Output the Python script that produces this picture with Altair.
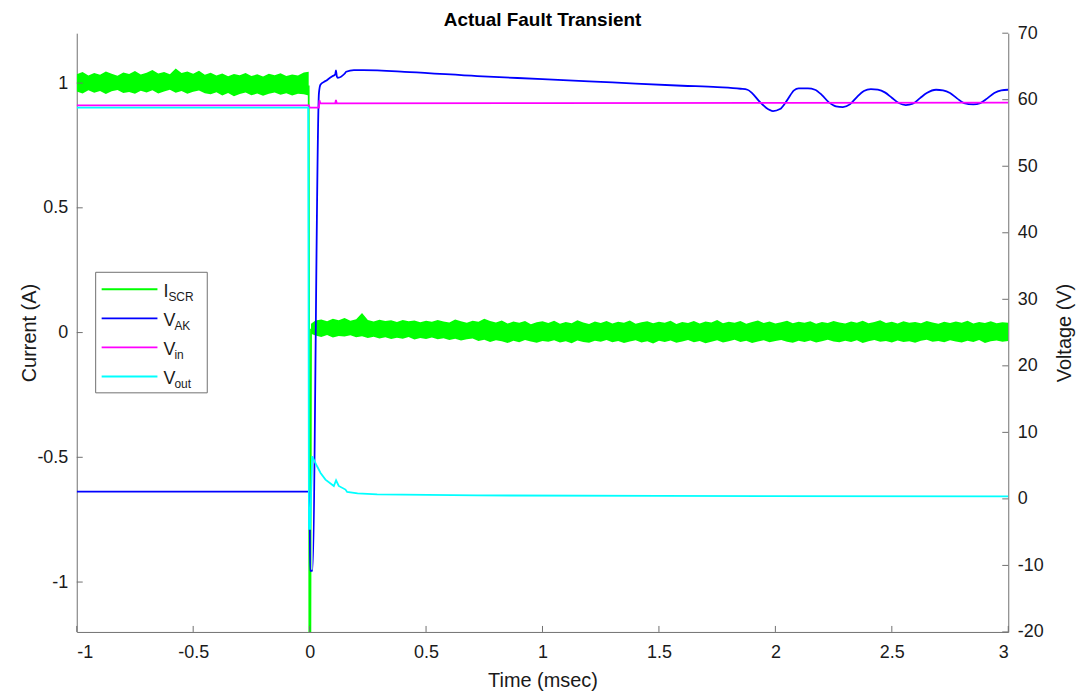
import altair as alt
import numpy as np
import pandas as pd

# ---------------- data ----------------
TITLE = "Actual Fault Transient"
X_TICKS = [-1, -0.5, 0, 0.5, 1, 1.5, 2, 2.5, 3]
LEFT_TICKS = [-1, -0.5, 0, 0.5, 1]
RIGHT_TICKS = [-20, -10, 0, 10, 20, 30, 40, 50, 60, 70]

# I_SCR noise envelope before the fault
T_PRE = list(np.linspace(-1.0, -0.025, 40)) + [-0.004]
ISCR_PRE_HI = [1.035, 1.044, 1.030, 1.040, 1.033, 1.046, 1.037, 1.029, 1.042, 1.036,
               1.048, 1.034, 1.041, 1.052, 1.038, 1.044, 1.035, 1.058, 1.040, 1.046,
               1.037, 1.049, 1.033, 1.041, 1.030, 1.038, 1.027, 1.036, 1.031, 1.040,
               1.028, 1.035, 1.026, 1.037, 1.031, 1.039, 1.028, 1.034, 1.030, 1.042, 1.045]
ISCR_PRE_LO = [0.966, 0.958, 0.971, 0.961, 0.968, 0.956, 0.967, 0.972, 0.960, 0.964,
               0.957, 0.969, 0.962, 0.971, 0.958, 0.966, 0.973, 0.961, 0.968, 0.957,
               0.965, 0.970, 0.959, 0.955, 0.963, 0.950, 0.960, 0.947, 0.956, 0.962,
               0.951, 0.958, 0.949, 0.957, 0.962, 0.953, 0.959, 0.950, 0.957, 0.955, 0.950]

# I_SCR noise envelope after the fault
T_POST = [0.006] + list(np.linspace(0.025, 3.0, 120))
ISCR_POST_HI = [0.035,
    0.048, 0.052, 0.045, 0.055, 0.049, 0.058, 0.047, 0.053, 0.078, 0.050,
    0.044, 0.051, 0.046, 0.049, 0.042, 0.050, 0.045, 0.048, 0.041, 0.047,
    0.043, 0.050, 0.044, 0.040, 0.052, 0.045, 0.039, 0.047, 0.043, 0.055,
    0.046, 0.040, 0.048, 0.036, 0.044, 0.039, 0.046, 0.033, 0.041, 0.045,
    0.038, 0.047, 0.035, 0.042, 0.037, 0.049, 0.040, 0.034, 0.044, 0.038,
    0.046, 0.036, 0.043, 0.039, 0.048, 0.035, 0.041, 0.045, 0.037, 0.043,
    0.039, 0.047, 0.034, 0.042, 0.038, 0.046, 0.036, 0.044, 0.040, 0.050,
    0.037, 0.043, 0.039, 0.046, 0.035, 0.042, 0.048, 0.038, 0.044, 0.036,
    0.041, 0.047, 0.037, 0.043, 0.039, 0.045, 0.035, 0.042, 0.038, 0.046,
    0.040, 0.036, 0.044, 0.039, 0.047, 0.037, 0.042, 0.049, 0.038, 0.043,
    0.036, 0.045, 0.039, 0.042, 0.037, 0.046, 0.040, 0.035, 0.043, 0.038,
    0.044, 0.039, 0.047, 0.036, 0.042, 0.038, 0.045, 0.037, 0.041, 0.039]
ISCR_POST_LO = [-0.005,
    -0.012, -0.018, -0.010, -0.020, -0.014, -0.016, -0.011, -0.019, -0.015, -0.022,
    -0.017, -0.024, -0.019, -0.026, -0.021, -0.025, -0.018, -0.028, -0.022, -0.026,
    -0.020, -0.027, -0.023, -0.030, -0.025, -0.032, -0.027, -0.024, -0.034, -0.029,
    -0.038, -0.031, -0.035, -0.042, -0.033, -0.039, -0.030, -0.036, -0.041, -0.034,
    -0.037, -0.031, -0.040, -0.035, -0.043, -0.032, -0.038, -0.041, -0.033, -0.037,
    -0.030, -0.039, -0.034, -0.042, -0.036, -0.031, -0.040, -0.035, -0.044, -0.033,
    -0.038, -0.032, -0.041, -0.036, -0.030, -0.039, -0.034, -0.043, -0.037, -0.031,
    -0.040, -0.035, -0.029, -0.038, -0.033, -0.042, -0.036, -0.031, -0.039, -0.034,
    -0.030, -0.037, -0.041, -0.033, -0.038, -0.032, -0.040, -0.035, -0.029, -0.036,
    -0.039, -0.033, -0.038, -0.031, -0.042, -0.035, -0.030, -0.037, -0.034, -0.040,
    -0.032, -0.038, -0.035, -0.041, -0.033, -0.029, -0.037, -0.034, -0.039, -0.031,
    -0.036, -0.040, -0.033, -0.038, -0.030, -0.042, -0.035, -0.032, -0.037, -0.034]

# I_SCR spike at the fault instant
ISCR_DROP_T = [-0.004, -0.001, 0.003, 0.006]
ISCR_DROP = [0.99, -1.30, -1.30, 0.015]

# V_AK
VAK_T = [-1.0, 0.0, 0.002, 0.012, 0.040, 0.047, 0.068, 0.096, 0.110, 0.113, 0.117,
         0.121, 0.150, 0.157, 0.19, 0.23, 0.43, 0.72, 1.0, 1.3, 1.6, 1.75, 1.85,
         1.88, 1.90, 1.93, 1.96, 1.99, 2.02, 2.05, 2.08, 2.10, 2.14, 2.17, 2.20,
         2.23, 2.26, 2.29, 2.32, 2.35, 2.38, 2.41, 2.44, 2.47, 2.50, 2.53, 2.56,
         2.59, 2.62, 2.65, 2.69, 2.72, 2.75, 2.78, 2.81, 2.85, 2.88, 2.91, 2.94,
         2.97, 3.0]
VAK_V = [1.1, 1.1, -10.8, -10.8, 61.0, 62.3, 62.8, 63.5, 63.8, 64.4, 63.5,
         63.3, 63.9, 64.2, 64.45, 64.45, 64.15, 63.55, 63.1, 62.6, 62.1, 61.9, 61.65,
         61.5, 61.0, 59.8, 58.8, 58.3, 58.6, 59.9, 61.4, 61.7, 61.7, 61.5, 60.7,
         59.6, 59.0, 58.9, 59.3, 60.4, 61.3, 61.6, 61.5, 61.1, 60.3, 59.5, 59.2,
         59.4, 60.2, 61.0, 61.5, 61.4, 61.0, 60.2, 59.5, 59.3, 59.5, 60.2, 61.0,
         61.4, 61.5]

# V_in
VIN_T = [-1.0, -0.003, 0.0, 0.040, 0.042, 0.046, 0.110, 0.113, 0.117, 1.0, 2.0, 3.0]
VIN_V = [59.15, 59.15, 58.8, 58.8, 59.9, 59.45, 59.45, 59.95, 59.45, 59.5, 59.52, 59.55]

# V_out
VOUT_T = [-1.0, -0.006, -0.003, 0.002, 0.011, 0.032, 0.047, 0.068, 0.104, 0.1136,
          0.125, 0.154, 0.161, 0.206, 0.29, 0.72, 1.5, 3.0]
VOUT_V = [58.8, 58.8, -4.5, -4.5, 6.4, 4.9, 3.9, 2.9, 1.93, 2.8,
          1.95, 1.4, 1.05, 0.82, 0.67, 0.52, 0.45, 0.37]

LEGEND_MAIN = ["I", "V", "V", "V"]
LEGEND_SUB = ["SCR", "AK", "in", "out"]
COLORS = ["#00ff00", "#0000ff", "#ff00ff", "#00ffff"]

# ---------------- style ----------------
FONT = "Liberation Sans"
AX = "#707070"
TXT = "#1a1a1a"
W, H = 935, 601
LW = 1.8

band = pd.concat([
    pd.DataFrame({"t": T_PRE, "y": ISCR_PRE_LO, "y2": ISCR_PRE_HI, "seg": "pre"}),
    pd.DataFrame({"t": T_POST, "y": ISCR_POST_LO, "y2": ISCR_POST_HI, "seg": "post"}),
])
drop = pd.DataFrame({"t": ISCR_DROP_T, "y": ISCR_DROP})
vak = pd.DataFrame({"t": VAK_T, "v": VAK_V})
vin = pd.DataFrame({"t": VIN_T, "v": VIN_V})
vout = pd.DataFrame({"t": VOUT_T, "v": VOUT_V})

x_enc = alt.X("t:Q", scale=alt.Scale(domain=[-1, 3], nice=False, zero=False),
              axis=alt.Axis(values=X_TICKS, title="Time (msec)", labelExpr="'' + datum.value",
                            labelPadding=12, titleX=W / 2, titleY=49, titleBaseline="middle"))
yl_enc = alt.Y("y:Q", scale=alt.Scale(domain=[-1.2, 1.2], nice=False, zero=False),
               axis=alt.Axis(values=LEFT_TICKS, title="Current (A)", orient="left",
                             labelExpr="'' + datum.value", labelPadding=9,
                             titleX=-47, titleY=H / 2, titleAngle=270, titleBaseline="middle"))
yr_enc = alt.Y("v:Q", scale=alt.Scale(domain=[-20, 70], nice=False, zero=False),
               axis=alt.Axis(values=RIGHT_TICKS, title="Voltage (V)", orient="right",
                             labelExpr="'' + datum.value", labelPadding=9,
                             titleX=56, titleY=H / 2, titleAngle=270, titleBaseline="middle"))

# left (current) group
g_area = alt.Chart(band).mark_area(color=COLORS[0], clip=True, opacity=1).encode(
    x=x_enc, y=yl_enc, y2="y2:Q", detail="seg:N")
g_drop = alt.Chart(drop).mark_line(color=COLORS[0], strokeWidth=LW, clip=True).encode(
    x=x_enc, y=yl_enc)
l_ticks = alt.Chart(pd.DataFrame({"y": LEFT_TICKS})).mark_rule(color=AX).encode(
    y=yl_enc, x=alt.value(0), x2=alt.value(6))
left = alt.layer(g_area, g_drop, l_ticks)

# right (voltage) group
b_line = alt.Chart(vak).mark_line(color=COLORS[1], strokeWidth=LW, clip=True,
                                  interpolate="monotone").encode(x=x_enc, y=yr_enc)
m_line = alt.Chart(vin).mark_line(color=COLORS[2], strokeWidth=LW, clip=True).encode(
    x=x_enc, y=yr_enc)
c_line = alt.Chart(vout).mark_line(color=COLORS[3], strokeWidth=LW, clip=True).encode(
    x=x_enc, y=yr_enc)
r_ticks = alt.Chart(pd.DataFrame({"v": RIGHT_TICKS})).mark_rule(color=AX).encode(
    y=yr_enc, x=alt.value(W - 6), x2=alt.value(W))
right = alt.layer(b_line, m_line, c_line, r_ticks)

x_ticks = alt.Chart(pd.DataFrame({"t": X_TICKS})).mark_rule(color=AX).encode(
    x=x_enc, y=alt.value(H - 6), y2=alt.value(H))

one = pd.DataFrame({"a": [0]})

# chart title as a text mark (keeps its position independent of axis label bounds)
title_mark = alt.Chart(one).mark_text(
    align="center", baseline="alphabetic", fontSize=19, fontWeight="bold",
    font=FONT, color="#000000").encode(
    x=alt.value(W / 2), y=alt.value(-7), text=alt.value(TITLE))

# custom legend (subscripts)
legend_layers = [alt.Chart(one).mark_rect(fill="white", stroke=AX, strokeWidth=1).encode(
    x=alt.value(19), x2=alt.value(131), y=alt.value(240), y2=alt.value(361))]
for i, (mn, sb, col) in enumerate(zip(LEGEND_MAIN, LEGEND_SUB, COLORS)):
    y0 = 257 + i * 29.2
    legend_layers.append(alt.Chart(one).mark_rule(color=col, strokeWidth=LW).encode(
        x=alt.value(25), x2=alt.value(81), y=alt.value(y0)))
    legend_layers.append(alt.Chart(one).mark_text(
        align="left", baseline="alphabetic", fontSize=18, font=FONT, color=TXT).encode(
        x=alt.value(87), y=alt.value(y0 + 7.5), text=alt.value(mn)))
    legend_layers.append(alt.Chart(one).mark_text(
        align="left", baseline="alphabetic", fontSize=12, font=FONT, color=TXT).encode(
        x=alt.value(92 if mn == "I" else 98), y=alt.value(y0 + 11.5), text=alt.value(sb)))

chart = alt.layer(left, right, x_ticks, title_mark, *legend_layers).resolve_scale(
    y="independent"
).properties(
    width=W, height=H,
    autosize=alt.AutoSizeParams(type="none"),
    padding={"left": 69, "top": 24, "right": 68, "bottom": 60},
).configure_view(stroke=None).configure_axis(
    grid=False, ticks=False, domainColor=AX, domainWidth=1,
    labelFont=FONT, labelFontSize=18, labelColor=TXT,
    titleFont=FONT, titleFontSize=20, titleFontWeight="normal", titleColor=TXT,
)

chart.save("out.html", embed_options={"renderer": "svg", "actions": False})
